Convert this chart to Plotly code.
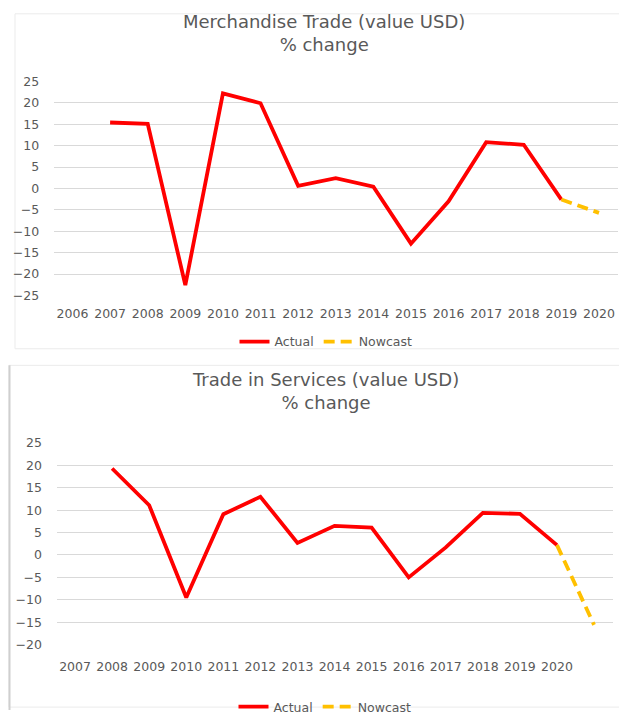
import plotly.graph_objects as go

# ---- data ----
merch_years = ["2006", "2007", "2008", "2009", "2010", "2011", "2012", "2013",
               "2014", "2015", "2016", "2017", "2018", "2019", "2020"]
merch_actual_x = ["2007", "2008", "2009", "2010", "2011", "2012", "2013",
                  "2014", "2015", "2016", "2017", "2018", "2019"]
merch_actual = [15.4, 15.1, -22.6, 22.2, 19.9, 0.6, 2.4, 0.4, -12.9, -3.0, 10.8, 10.2, -2.6]
merch_nowcast_x = ["2019", "2020"]
merch_nowcast = [-2.6, -5.7]

serv_years = ["2007", "2008", "2009", "2010", "2011", "2012", "2013", "2014",
              "2015", "2016", "2017", "2018", "2019", "2020", " "]
serv_actual_x = ["2008", "2009", "2010", "2011", "2012", "2013", "2014",
                 "2015", "2016", "2017", "2018", "2019", "2020"]
serv_actual = [19.3, 11.1, -9.5, 9.1, 13.0, 2.7, 6.5, 6.1, -5.0, 1.7, 9.4, 9.2, 2.2]
serv_nowcast_x = ["2020", " "]
serv_nowcast = [2.2, -15.6]

title1 = "Merchandise Trade (value USD)<br>% change"
title2 = "Trade in Services (value USD)<br>% change"

# ---- styling ----
W, H = 619, 722
RED = "#FF0000"
GOLD = "#FFC000"
GRID = "#D9D9D9"
TXT = "#595959"
FONT = "DejaVu Sans"

def px(x):
    return x / W

def py(y):
    return 1 - y / H

fig = go.Figure()
fig.add_trace(go.Scatter(x=merch_actual_x, y=merch_actual, mode="lines", name="Actual",
                         line=dict(color=RED, width=3.8), xaxis="x", yaxis="y", legend="legend"))
fig.add_trace(go.Scatter(x=merch_nowcast_x, y=merch_nowcast, mode="lines", name="Nowcast",
                         line=dict(color=GOLD, width=3.8, dash="11px,6px"), xaxis="x", yaxis="y",
                         legend="legend"))
fig.add_trace(go.Scatter(x=serv_actual_x, y=serv_actual, mode="lines", name="Actual",
                         line=dict(color=RED, width=3.8), xaxis="x2", yaxis="y2", legend="legend2"))
fig.add_trace(go.Scatter(x=serv_nowcast_x, y=serv_nowcast, mode="lines", name="Nowcast",
                         line=dict(color=GOLD, width=3.8, dash="11px,6px"), xaxis="x2", yaxis="y2",
                         legend="legend2"))

tickfont = dict(family=FONT, size=12.5, color=TXT)
xcommon = dict(type="category", showgrid=False, zeroline=False, showline=False,
               ticks="outside", tickcolor="rgba(0,0,0,0)", tickfont=tickfont, fixedrange=True)
ycommon = dict(showgrid=True, gridcolor=GRID, gridwidth=1, zeroline=False, showline=False,
               tick0=0, dtick=5, ticks="outside", ticklen=11, tickcolor="rgba(0,0,0,0)",
               tickfont=tickfont, fixedrange=True)

fig.update_layout(
    width=W, height=H, autosize=False,
    margin=dict(l=0, r=0, t=0, b=0),
    paper_bgcolor="white", plot_bgcolor="white",
    xaxis=dict(xcommon, domain=[px(53.7), px(617.8)], anchor="y",
               categoryorder="array", categoryarray=merch_years, range=[-0.5, 14.5], ticklen=6),
    yaxis=dict(ycommon, domain=[py(296.7), py(76)], anchor="x", range=[-25.1, 25.1]),
    xaxis2=dict(xcommon, domain=[px(56.5), px(612.6)], anchor="y2",
                categoryorder="array", categoryarray=serv_years, range=[-0.5, 14.5], ticklen=10),
    yaxis2=dict(ycommon, domain=[py(655.3), py(447.3)], anchor="x2", range=[-20.1, 25.1]),
    legend=dict(orientation="h", x=px(326), xanchor="center", y=py(344), yanchor="middle",
                font=dict(family=FONT, size=12.5, color=TXT), bgcolor="rgba(0,0,0,0)"),
    legend2=dict(orientation="h", x=px(325), xanchor="center", y=py(719), yanchor="middle",
                 font=dict(family=FONT, size=12.5, color=TXT), bgcolor="rgba(0,0,0,0)"),
    annotations=[
        dict(text=title1, x=px(324), y=py(27), xref="paper", yref="paper", showarrow=False,
             xanchor="center", yanchor="middle", font=dict(family=FONT, size=18, color=TXT)),
        dict(text=title2, x=px(325), y=py(394), xref="paper", yref="paper", showarrow=False,
             xanchor="center", yanchor="middle", font=dict(family=FONT, size=18, color=TXT)),
    ],
    shapes=[
        dict(type="rect", xref="paper", yref="paper", x0=px(15), x1=px(640), y0=py(351), y1=py(7),
             line=dict(color="#EBEBEB", width=1), layer="below"),
        dict(type="rect", xref="paper", yref="paper", x0=px(9), x1=px(640), y0=py(719), y1=py(368),
             line=dict(color="#EBEBEB", width=1), layer="below"),
        dict(type="line", xref="paper", yref="paper", x0=px(9.5), x1=px(9.5), y0=py(722), y1=py(368),
             line=dict(color="#CFCFCF", width=2), layer="below"),
    ],
    showlegend=True,
)

fig.write_html(
    "out.html",
    config={"displayModeBar": False},
    post_script="document.body.style.margin='0';document.body.style.overflow='hidden';",
)
